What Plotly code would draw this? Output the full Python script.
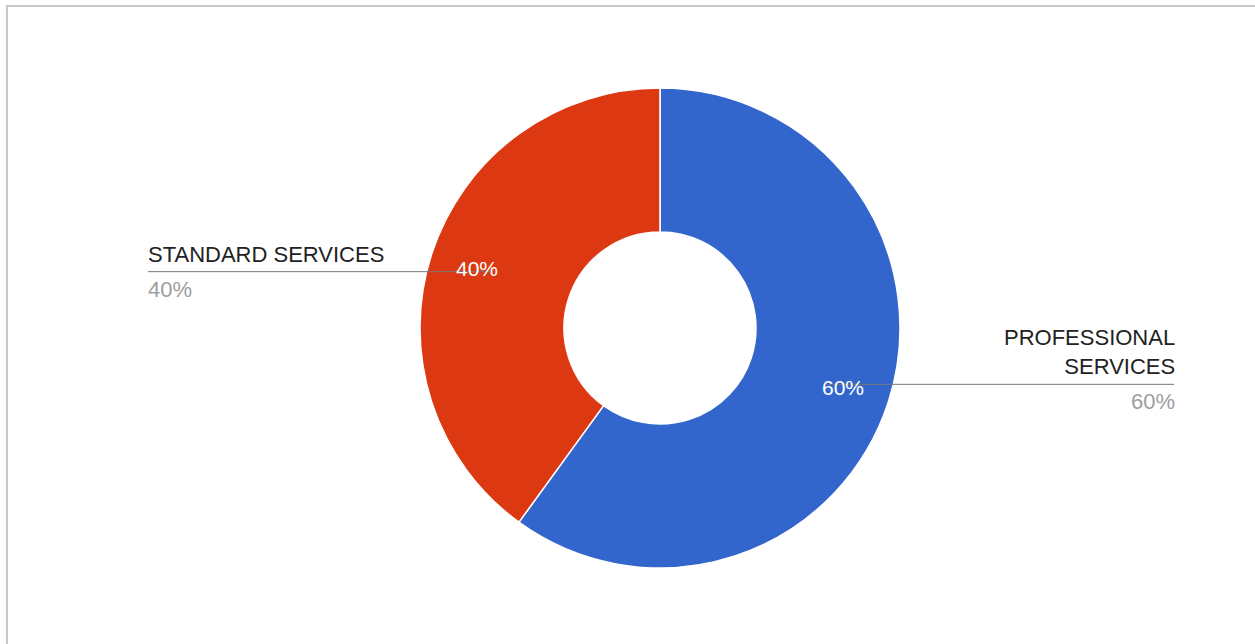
import math
import plotly.graph_objects as go

# Donut chart: share of services
labels = ["PROFESSIONAL SERVICES", "STANDARD SERVICES"]
label_lines = ["PROFESSIONAL<br>SERVICES", "STANDARD SERVICES"]
values = [60, 40]
colors = ["#3366cc", "#dc3912"]

W, H = 1255, 644
CX, CY, R = 660, 328, 240  # centre and outer radius in pixels
HOLE = 0.4


def px(x):
    return x / W


def py(y):
    return 1 - y / H


fig = go.Figure(
    go.Pie(
        labels=labels,
        values=values,
        hole=HOLE,
        sort=False,
        direction="clockwise",
        rotation=0,
        marker=dict(colors=colors, line=dict(color="white", width=1.5)),
        textinfo="none",
        hoverinfo="label+percent",
        showlegend=False,
        domain=dict(x=[px(CX - R), px(CX + R)], y=[py(CY + R), py(CY - R)]),
    )
)

total = sum(values)
font = "Arial, Liberation Sans, sans-serif"
annotations = []
shapes = []

# Frame around the chart area
shapes.append(dict(type="line", xref="paper", yref="paper",
                   x0=px(6), x1=px(W + 5), y0=py(6), y1=py(6),
                   line=dict(color="#c8c8c8", width=2)))
shapes.append(dict(type="line", xref="paper", yref="paper",
                   x0=px(7), x1=px(7), y0=py(5), y1=py(H + 5),
                   line=dict(color="#c8c8c8", width=2)))

start = 0.0
for i, (lab, val) in enumerate(zip(label_lines, values)):
    frac = val / total
    mid = (start + frac / 2) * 2 * math.pi  # clockwise from 12 o'clock
    start += frac
    lx = CX + 0.8 * R * math.sin(mid)
    ly = CY - 0.8 * R * math.cos(mid)
    pct = f"{round(frac * 100)}%"

    # percentage inside the slice
    annotations.append(dict(x=px(lx), y=py(ly), xref="paper", yref="paper",
                            text=pct, showarrow=False, xanchor="center", yanchor="middle",
                            font=dict(family=font, size=21, color="white")))

    right = math.sin(mid) > 0
    line_y = ly - 3 if right else ly + 3
    if right:
        x_start, x_end = lx - 15, 1174
        shapes.append(dict(type="line", xref="paper", yref="paper",
                           x0=px(x_start), x1=px(x_end), y0=py(line_y), y1=py(line_y),
                           line=dict(color="#777777", width=1)))
        annotations.append(dict(x=px(x_end + 3), y=py(line_y - 3), xref="paper", yref="paper",
                                text=lab, showarrow=False, xanchor="right", yanchor="bottom",
                                align="right",
                                font=dict(family=font, size=22, color="#222222")))
        annotations.append(dict(x=px(x_end + 3), y=py(line_y + 3), xref="paper", yref="paper",
                                text=pct, showarrow=False, xanchor="right", yanchor="top",
                                font=dict(family=font, size=22, color="#9e9e9e")))
    else:
        x_start, x_end = 148, lx + 16
        shapes.append(dict(type="line", xref="paper", yref="paper",
                           x0=px(x_start), x1=px(x_end), y0=py(line_y), y1=py(line_y),
                           line=dict(color="#777777", width=1)))
        annotations.append(dict(x=px(x_start - 2), y=py(line_y - 3), xref="paper", yref="paper",
                                text=lab, showarrow=False, xanchor="left", yanchor="bottom",
                                align="left",
                                font=dict(family=font, size=22, color="#222222")))
        annotations.append(dict(x=px(x_start - 2), y=py(line_y + 3), xref="paper", yref="paper",
                                text=pct, showarrow=False, xanchor="left", yanchor="top",
                                font=dict(family=font, size=22, color="#9e9e9e")))

fig.update_layout(
    width=W,
    height=H,
    margin=dict(l=0, r=0, t=0, b=0),
    paper_bgcolor="white",
    plot_bgcolor="white",
    annotations=annotations,
    shapes=shapes,
)

fig.write_html("out.html", config={"displayModeBar": False})
